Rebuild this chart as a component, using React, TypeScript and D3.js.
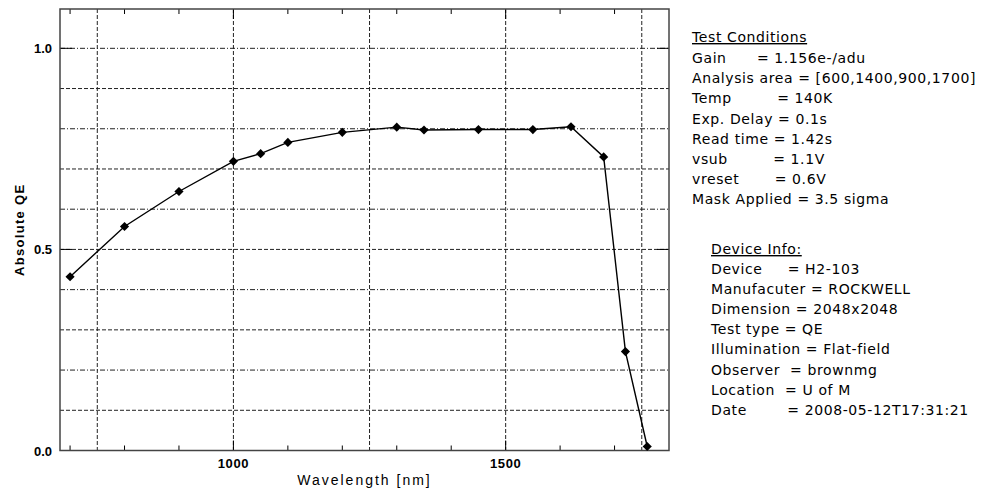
import React from 'react';
import * as d3 from 'd3';

const wavelengths = [700, 800, 900, 1000, 1050, 1100, 1200, 1300, 1350, 1450, 1550, 1620, 1680, 1720, 1760];
const qe = [0.432, 0.557, 0.644, 0.719, 0.738, 0.766, 0.791, 0.804, 0.797, 0.798, 0.798, 0.805, 0.730, 0.246, 0.010];

const xLabelTicks = [1000, 1500];
const xGridTicks = [750, 1000, 1250, 1500, 1750];
const xMinorTicks = [700, 800, 900, 1100, 1200, 1300, 1400, 1600, 1700];
const yLabelTicks = [0, 0.5, 1.0];
const yGridTicks = [0.1, 0.2, 0.3, 0.4, 0.5, 0.6, 0.7, 0.8, 0.9, 1.0];

const testTitle = 'Test Conditions';
const testConditions = [
  'Gain      = 1.156e-/adu',
  'Analysis area = [600,1400,900,1700]',
  'Temp         = 140K',
  'Exp. Delay = 0.1s',
  'Read time = 1.42s',
  'vsub         = 1.1V',
  'vreset       = 0.6V',
  'Mask Applied = 3.5 sigma',
];
const deviceTitle = 'Device Info:';
const deviceInfo = [
  'Device     = H2-103',
  'Manufacuter = ROCKWELL',
  'Dimension = 2048x2048',
  'Test type = QE',
  'Illumination = Flat-field',
  'Observer  = brownmg',
  'Location  = U of M',
  'Date        = 2008-05-12T17:31:21',
];

export default function App() {
  const W = 984, H = 491;
  const L = 60, R = 669, T = 9, B = 450.5;
  const x = d3.scaleLinear().domain([681.5, 1800]).range([L, R]);
  const y = d3.scaleLinear().domain([0, 1.1]).range([B, 8.1]);
  const pts = wavelengths.map((w, i) => [x(w), y(qe[i])] as [number, number]);
  const line = d3.line()(pts) || '';
  const marker = d3.symbol(d3.symbolSquare, 42)() || '';
  const panelFont = "'DejaVu Sans', sans-serif";
  const axisFont = "'Liberation Sans', Arial, sans-serif";
  const gridColor = '#222';

  return (
    <svg width={W} height={H} style={{ position: 'absolute', left: 0, top: 0, background: '#fff' }}>
      <rect x={0} y={0} width={W} height={H} fill="#fff" />
      {/* grid */}
      {yGridTicks.map((v) => (
        <line key={'hg' + v} x1={L} x2={R} y1={y(v)} y2={y(v)} stroke={gridColor} strokeWidth={1}
          strokeDasharray={Math.round(v * 10) % 2 === 0 ? '5,2,1,2' : '4,2'} />
      ))}
      {xGridTicks.map((v) => (
        <line key={'vg' + v} x1={x(v)} x2={x(v)} y1={T} y2={B} stroke={gridColor} strokeWidth={1} strokeDasharray="4,2" />
      ))}
      {/* minor ticks */}
      {xMinorTicks.map((v) => (
        <g key={'mt' + v}>
          <line x1={x(v)} x2={x(v)} y1={B} y2={B - 5} stroke="#000" strokeWidth={1} />
          <line x1={x(v)} x2={x(v)} y1={T} y2={T + 5} stroke="#000" strokeWidth={1} />
        </g>
      ))}
      {xLabelTicks.map((v) => (
        <g key={'xt' + v}>
          <line x1={x(v)} x2={x(v)} y1={B} y2={B - 10} stroke="#000" strokeWidth={1} />
          <line x1={x(v)} x2={x(v)} y1={T} y2={T + 10} stroke="#000" strokeWidth={1} />
          <text x={x(v)} y={468} textAnchor="middle" fontFamily={axisFont} fontSize={13} fontWeight="bold" letterSpacing={0.6}>
            {String(v)}
          </text>
        </g>
      ))}
      {yLabelTicks.map((v) => (
        <g key={'yt' + v}>
          <line x1={L} x2={L + 12} y1={y(v)} y2={y(v)} stroke="#000" strokeWidth={1} />
          <line x1={R} x2={R - 12} y1={y(v)} y2={y(v)} stroke="#000" strokeWidth={1} />
          <text x={52} y={y(v) + 5} textAnchor="end" fontFamily={axisFont} fontSize={13} fontWeight="bold">
            {d3.format('.1f')(v)}
          </text>
        </g>
      ))}
      {/* frame */}
      <rect x={L} y={T} width={R - L} height={B - T} fill="none" stroke="#444" strokeWidth={1.5} />
      {/* data */}
      <path d={line} fill="none" stroke="#000" strokeWidth={1.4} />
      {pts.map((p, i) => (
        <path key={'m' + i} d={marker} transform={`translate(${p[0]},${p[1]}) rotate(45)`} fill="#000" />
      ))}
      {/* axis titles */}
      <text x={(L + R) / 2} y={485} textAnchor="middle" fontFamily={axisFont} fontSize={14} letterSpacing={2}>
        Wavelength [nm]
      </text>
      <text transform={`translate(24,${(T + B) / 2}) rotate(-90)`} textAnchor="middle" fontFamily={axisFont}
        fontSize={13} fontWeight="bold" letterSpacing={1.3}>
        Absolute QE
      </text>
      {/* info panel */}
      <g fontFamily={panelFont} fontSize={14} letterSpacing={0.6} style={{ whiteSpace: 'pre' }}>
        <text x={692} y={42} textDecoration="underline">{testTitle}</text>
        {testConditions.map((s, i) => (
          <text key={'tc' + i} x={692} y={63 + i * 20.2} xmlSpace="preserve">{s}</text>
        ))}
        <text x={711} y={254} textDecoration="underline">{deviceTitle}</text>
        {deviceInfo.map((s, i) => (
          <text key={'di' + i} x={711} y={274 + i * 20.1} xmlSpace="preserve">{s}</text>
        ))}
      </g>
    </svg>
  );
}
